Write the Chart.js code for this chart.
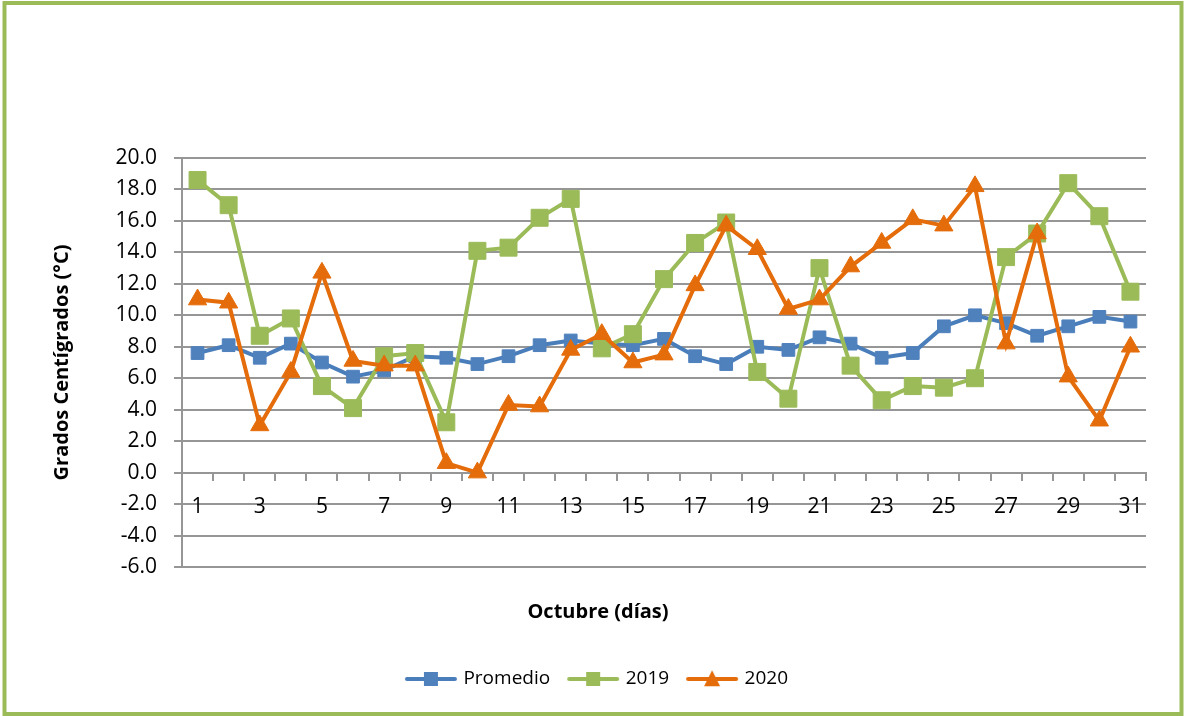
<!DOCTYPE html>
<html>
<head>
<meta charset="utf-8">
<script src="https://cdn.jsdelivr.net/npm/chart.js@4/dist/chart.umd.min.js"></script>
<style>
html,body{margin:0;padding:0;background:#fff;}
canvas{display:block;}
</style>
</head>
<body>
<canvas id="c" width="1184" height="716" style="width:1184px;height:716px"></canvas>
<script>
// ---- data ----
const days = ['1','2','3','4','5','6','7','8','9','10','11','12','13','14','15','16','17','18','19','20','21','22','23','24','25','26','27','28','29','30','31'];
const promedio = [7.6, 8.1, 7.3, 8.2, 7.0, 6.1, 6.5, 7.4, 7.3, 6.9, 7.4, 8.1, 8.4, 8.2, 8.1, 8.5, 7.4, 6.9, 8.0, 7.8, 8.6, 8.2, 7.3, 7.6, 9.3, 10.0, 9.5, 8.7, 9.3, 9.9, 9.6];
const serie2019 = [18.6, 17.0, 8.7, 9.8, 5.5, 4.1, 7.4, 7.6, 3.2, 14.1, 14.3, 16.2, 17.4, 7.9, 8.8, 12.3, 14.6, 15.9, 6.4, 4.7, 13.0, 6.8, 4.6, 5.5, 5.4, 6.0, 13.7, 15.2, 18.4, 16.3, 11.5];
const serie2020 = [11.0, 10.8, 3.0, 6.4, 12.7, 7.1, 6.8, 6.8, 0.6, 0.0, 4.3, 4.2, 7.8, 8.8, 7.0, 7.5, 11.9, 15.7, 14.2, 10.4, 11.0, 13.1, 14.6, 16.1, 15.7, 18.2, 8.2, 15.2, 6.1, 3.3, 8.0];
const seriesNames = ['Promedio', '2019', '2020'];
const yMin = -6, yMax = 20, yStep = 2;
const yTitle = 'Grados Centígrados (°C)';
const xTitle = 'Octubre (días)';

// ---- styles ----
const BLUE = '#4A7EBB', BLUE_FILL = '#4F81BD';
const GREEN = '#9BBB59';
const ORANGE = '#E46C0A';
const GRID = '#969696';
const FONT = '"Open Sans", "Liberation Sans", sans-serif';

function legendIcon(color, fill, style, size) {
  const cv = document.createElement('canvas');
  cv.width = 54; cv.height = 22;
  const ctx = cv.getContext('2d');
  ctx.strokeStyle = color; ctx.lineWidth = 4; ctx.lineCap = 'round';
  ctx.beginPath(); ctx.moveTo(3, 11); ctx.lineTo(51, 11); ctx.stroke();
  ctx.fillStyle = fill;
  if (style === 'rect') {
    ctx.fillRect(27 - size / 2, 11 - size / 2, size, size);
  } else {
    ctx.beginPath();
    ctx.moveTo(27, 11 - size * 0.55);
    ctx.lineTo(27 + size / 2, 11 + size * 0.45);
    ctx.lineTo(27 - size / 2, 11 + size * 0.45);
    ctx.closePath(); ctx.fill();
  }
  return cv;
}
const icons = [
  legendIcon(BLUE, BLUE_FILL, 'rect', 14),
  legendIcon(GREEN, GREEN, 'rect', 14),
  legendIcon(ORANGE, ORANGE, 'tri', 16)
];

const framePlugin = {
  id: 'frame',
  afterDraw(chart) {
    const ctx = chart.ctx;
    ctx.save();
    ctx.strokeStyle = GREEN;
    ctx.lineWidth = 4;
    ctx.strokeRect(4.5, 3, 1177, 711);
    ctx.restore();
  }
};

Chart.defaults.color = '#000';
Chart.defaults.font.family = FONT;

new Chart(document.getElementById('c'), {
  type: 'line',
  data: {
    labels: days,
    datasets: [
      {
        label: seriesNames[0], data: promedio, order: 3,
        borderColor: BLUE, backgroundColor: BLUE_FILL, borderWidth: 4,
        pointStyle: 'rect', pointRadius: 9, pointBorderWidth: 1,
        pointBackgroundColor: BLUE_FILL, pointBorderColor: BLUE_FILL, tension: 0
      },
      {
        label: seriesNames[1], data: serie2019, order: 2,
        borderColor: GREEN, backgroundColor: GREEN, borderWidth: 4,
        pointStyle: 'rect', pointRadius: 12, pointBorderWidth: 1,
        pointBackgroundColor: GREEN, pointBorderColor: GREEN, tension: 0
      },
      {
        label: seriesNames[2], data: serie2020, order: 1,
        borderColor: ORANGE, backgroundColor: ORANGE, borderWidth: 4,
        pointStyle: 'triangle', pointRadius: 10.5, pointBorderWidth: 1,
        pointBackgroundColor: ORANGE, pointBorderColor: ORANGE, tension: 0
      }
    ]
  },
  options: {
    responsive: false,
    animation: false,
    events: [],
    layout: { padding: { left: 50, right: 38, top: 158, bottom: 17.5 } },
    plugins: {
      tooltip: { enabled: false },
      title: {
        display: true, text: xTitle, position: 'bottom', weight: 500,
        color: '#000',
        font: { family: FONT, size: 20, weight: 'bold', lineHeight: 1.2 },
        padding: { top: 33, bottom: 25.5 }
      },
      legend: {
        display: true, position: 'bottom',
        labels: {
          usePointStyle: true, pointStyleWidth: 46, padding: 20,
          color: '#000',
          font: { family: FONT, size: 19 },
          generateLabels(chart) {
            return chart.data.datasets.map((ds, i) => ({
              text: ds.label, pointStyle: icons[i], datasetIndex: i,
              fillStyle: ds.borderColor, strokeStyle: ds.borderColor,
              lineWidth: 0, hidden: false, fontColor: '#000'
            }));
          }
        }
      }
    },
    scales: {
      x: {
        type: 'category',
        position: { y: 0 },
        offset: true,
        grid: {
          offset: true, drawOnChartArea: false, drawTicks: true,
          tickLength: 7, color: GRID, lineWidth: 2
        },
        border: { display: true, color: GRID, width: 2 },
        ticks: {
          autoSkip: false, maxRotation: 0, padding: 15,
          font: { family: FONT, size: 21 }, color: '#000',
          callback(v, i) { return i % 2 === 0 ? days[i] : ''; }
        }
      },
      y: {
        position: 'left',
        min: yMin, max: yMax,
        afterFit(scale) { scale.width = 132; },
        grid: {
          drawTicks: true, tickLength: 8, color: GRID, lineWidth: 2
        },
        border: { display: true, color: GRID, width: 2 },
        ticks: {
          stepSize: yStep, padding: 17,
          font: { family: FONT, size: 21 }, color: '#000',
          callback(v) { return Number(v).toFixed(1); }
        },
        title: {
          display: true, text: yTitle, color: '#000',
          font: { family: FONT, size: 20, weight: 'bold', lineHeight: 1.2 },
          padding: { top: 0, bottom: 0 }
        }
      }
    }
  },
  plugins: [framePlugin]
});
</script>
</body>
</html>
